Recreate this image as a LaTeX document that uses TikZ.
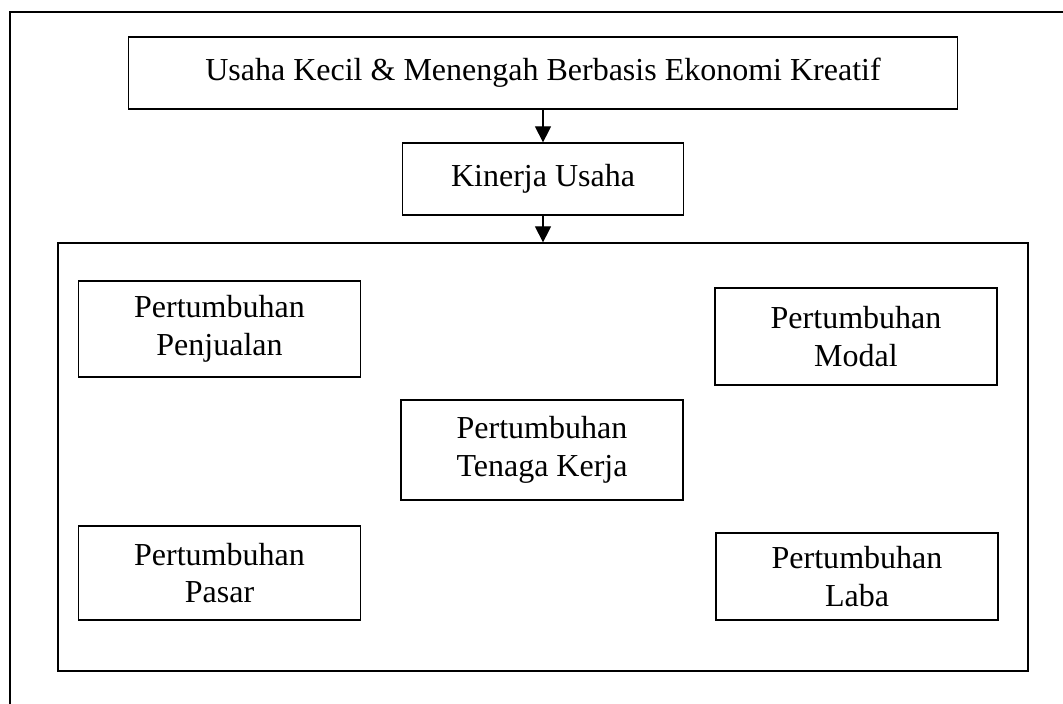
\documentclass[tikz,border=0pt]{standalone}
\usepackage{fontspec}
\setmainfont{Liberation Serif}
\usetikzlibrary{arrows.meta}

\tikzset{
    kotak/.style={draw, line width=0.5pt, align=center, inner sep=2pt},
    panah/.style={line width=0.5pt, -{Triangle[length=6.4pt, width=6.4pt]}}
}

\begin{document}
\begin{tikzpicture}[x=0.4pt, y=-0.4pt, line width=0.5pt, font=\fontsize{12.8}{15}\selectfont]
    \useasboundingbox (0,0) rectangle (1063,704);

    % Outer frame (only left and top edges show)
    \draw (10,704) |- (1063,12);

    % Top chain
    \node[kotak, minimum width=331.6pt, minimum height=28.8pt] (ukm) at (543,73)
        {Usaha Kecil \& Menengah Berbasis Ekonomi Kreatif};
    \node[kotak, minimum width=112.4pt, minimum height=28.8pt] (kinerja) at (543,179)
        {Kinerja Usaha};
    \node[kotak, minimum width=388pt, minimum height=171.2pt] (indikator) at (543,457) {};

    \draw[panah] (ukm.south) -- (kinerja.north);
    \draw[panah] (kinerja.south) -- (indikator.north);

    % Indicators of business performance
    \foreach \nama/\px/\py/\tinggi/\teks in {
        penjualan/219.5/329/38.4/{Pertumbuhan\\Penjualan},
        modal/856/336.5/38.8/{Pertumbuhan\\Modal},
        tenaga/542/450/40/{Pertumbuhan\\Tenaga Kerja},
        pasar/219.5/573/37.6/{Pertumbuhan\\Pasar},
        laba/857/576.5/34.8/{Pertumbuhan\\Laba}} {
        \node[kotak, minimum width=112.8pt, minimum height=\tinggi pt] (\nama) at (\px,\py) {\teks};
    }
\end{tikzpicture}
\end{document}
